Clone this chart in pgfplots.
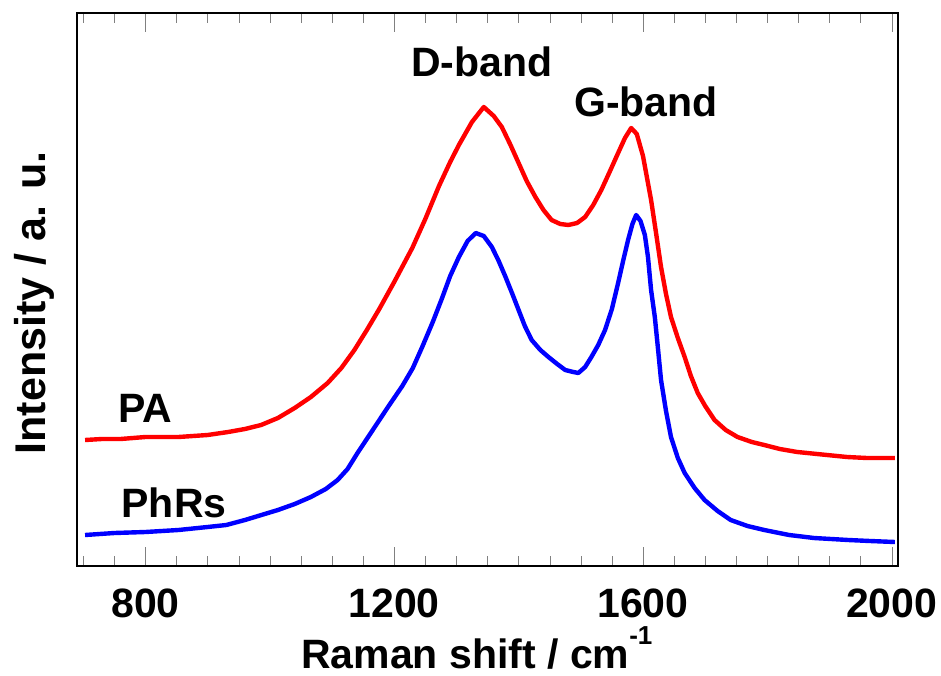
\documentclass[border=0pt]{standalone}
\usepackage{pgfplots}
\pgfplotsset{compat=1.18}
\usepackage{fontspec}
\setmainfont{Liberation Sans}
\definecolor{pared}{RGB}{255,0,0}
\definecolor{phblue}{RGB}{0,0,255}
\newcommand{\bigf}{\fontsize{20.5}{24}\selectfont\bfseries}
\begin{document}
\begin{tikzpicture}
\useasboundingbox (-38.5pt,-54.5pt) rectangle (432pt,283pt);
\begin{axis}[
  at={(0pt,0pt)}, anchor=south west,
  scale only axis,
  width=410.5pt, height=276.5pt,
  xmin=690, xmax=2010, ymin=0, ymax=553,
  xtick={800,1200,1600,2000},
  xticklabels={800,1200,1600,2000},
  minor xtick={700,750,850,900,950,1000,1050,1100,1150,1250,1300,1350,1400,1450,1500,1550,1650,1700,1750,1800,1850,1900,1950},
  ymajorticks=false,
  tick align=inside,
  major tick length=9.5pt,
  minor tick length=5pt,
  line width=1.2pt,
  xticklabel style={font=\bigf, anchor=base, yshift=-25.5pt},
  every axis x label/.style={at={(rel axis cs:0.487,0)}, anchor=base, yshift=-51pt},
  every axis y label/.style={at={(rel axis cs:-0.038,0.4756)}, rotate=90, anchor=base},
  xlabel={\bigf Raman shift / cm\raisebox{12pt}{\fontsize{13}{13}\selectfont\bfseries -1}},
  ylabel={\fontsize{21.5}{24}\selectfont\bfseries Intensity / a. u.},
]
\addplot[pared, line width=2.2pt, line join=round] coordinates {
(703,126) (730,127) (760,127) (800,129) (853,129) (900,131) (933,134) (960,137)
(986,141) (1013,148) (1040,158) (1066,169) (1093,183) (1115,198) (1136,216)
(1156,236) (1176,257) (1200,284) (1229,318) (1250,347) (1272,380) (1290,404)
(1304,421) (1325,444) (1344,459) (1360,450) (1373,439) (1387,421) (1400,403)
(1413,385) (1427,369) (1440,356) (1453,346) (1467,342) (1480,341) (1494,343)
(1507,349) (1520,361) (1533,376) (1547,395) (1560,413) (1571,428) (1581,438)
(1590,432) (1600,410) (1613,366) (1621,333) (1629,299) (1637,272) (1645,249)
(1656,228) (1667,209) (1677,190) (1688,173) (1700,160) (1715,146) (1733,136)
(1752,129) (1775,124) (1795,121) (1820,117) (1848,114) (1880,112) (1928,109)
(1960,108) (2005,108)
};
\addplot[phblue, line width=2.2pt, line join=round] coordinates {
(703,31) (750,33) (800,34) (853,36) (900,39) (930,41) (960,46) (1013,56)
(1040,62) (1066,69) (1090,77) (1109,86) (1125,97) (1141,113) (1157,128)
(1173,143) (1190,159) (1213,180) (1230,198) (1245,219) (1262,244) (1277,268)
(1290,290) (1304,309) (1318,325) (1331,333) (1344,330) (1357,319) (1368,305)
(1379,289) (1390,272) (1400,256) (1410,240) (1421,226) (1435,216) (1448,209)
(1462,202) (1475,196) (1488,194) (1496,193) (1507,199) (1517,209) (1528,221)
(1539,236) (1550,257) (1560,283) (1568,305) (1576,326) (1583,342) (1589,351)
(1596,345) (1603,331) (1608,309) (1613,276) (1619,249) (1624,218) (1629,186)
(1637,155) (1645,129) (1656,108) (1667,93) (1683,78) (1699,66) (1720,55)
(1741,46) (1768,40) (1795,36) (1835,31) (1875,28) (1930,26) (1965,25) (2005,24)
};
\node[font=\bigf, anchor=base] at (axis cs:1341,489) {D-band};
\node[font=\bigf, anchor=base] at (axis cs:1605,449) {G-band};
\node[font=\bigf, anchor=base] at (axis cs:800,144) {PA};
\node[font=\bigf, anchor=base] at (axis cs:846,49) {PhRs};
\end{axis}
\end{tikzpicture}
\end{document}
